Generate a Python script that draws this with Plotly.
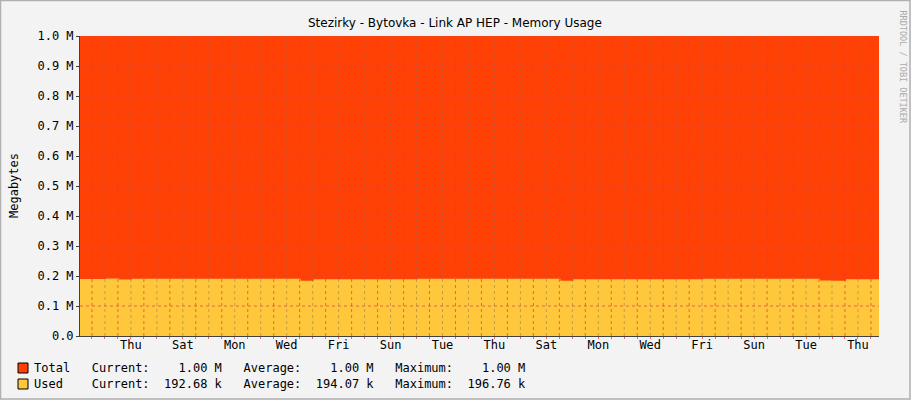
import plotly.graph_objects as go

# time axis in days from the left edge of the graph
days = [i * 0.5 for i in range(63)]
total_m = [1.0] * 63
used_m = [0.190, 0.190, 0.192, 0.188, 0.191, 0.191, 0.191, 0.191, 0.191, 0.191,
          0.191, 0.191, 0.191, 0.191, 0.191, 0.191, 0.191, 0.184, 0.189, 0.189,
          0.189, 0.189, 0.189, 0.189, 0.189, 0.189, 0.191, 0.191, 0.191, 0.191,
          0.191, 0.191, 0.191, 0.191, 0.191, 0.191, 0.191, 0.184, 0.189, 0.189,
          0.189, 0.189, 0.189, 0.189, 0.189, 0.189, 0.189, 0.189, 0.191, 0.191,
          0.191, 0.191, 0.191, 0.191, 0.191, 0.191, 0.191, 0.185, 0.184, 0.189,
          0.189, 0.189, 0.189]
day_labels = ["Thu", "Sat", "Mon", "Wed", "Fri", "Sun", "Tue", "Thu",
              "Sat", "Mon", "Wed", "Fri", "Sun", "Tue", "Thu"]
label_pos = [1.96 + 2 * i for i in range(len(day_labels))]
y_vals = [i / 10 for i in range(11)]
y_text = ["0.0"] + ["%.1f M" % v for v in y_vals[1:]]

legend_rows = [
    ("#ff4105", "Total   Current:    1.00 M   Average:    1.00 M   Maximum:    1.00 M"),
    ("#ffc73b", "Used    Current:  192.68 k   Average:  194.07 k   Maximum:  196.76 k"),
]

mono = "DejaVu Sans Mono"
x_end = 30.77
W, H, L, R, T, B = 911, 400, 80, 32, 36, 64
pw, ph = W - L - R, H - T - B

fig = go.Figure()
fig.add_trace(go.Scatter(x=days, y=total_m, mode="lines", line=dict(width=0, shape="hv"),
                         fill="tozeroy", fillcolor="#ff4105", hoverinfo="skip"))
fig.add_trace(go.Scatter(x=days, y=used_m, mode="lines", line=dict(width=0, shape="hv"),
                         fill="tozeroy", fillcolor="#ffc73b", hoverinfo="skip"))
# invisible trace to activate the day-label axis
fig.add_trace(go.Scatter(x=[0], y=[0], xaxis="x2", mode="markers",
                         marker=dict(opacity=0), hoverinfo="skip"))

# grid drawn above the filled areas, as rrdtool does
minor_x = [0.46 + 0.5 * i for i in range(62) if 0.46 + 0.5 * i < x_end]
for xv in minor_x:
    major = abs((xv - 1.46) % 1) < 1e-6
    fig.add_shape(type="line", xref="x", yref="paper", x0=xv, x1=xv, y0=0, y1=1,
                  layer="above",
                  line=dict(color="rgba(230,60,60,0.7)" if major else "rgba(120,120,120,0.5)",
                            width=1, dash="dot"))
for yv in y_vals[1:]:
    fig.add_shape(type="line", xref="paper", yref="y", x0=0, x1=1, y0=yv, y1=yv,
                  layer="above", line=dict(color="rgba(230,60,60,0.7)", width=1, dash="dot"))

fig.update_layout(
    width=W, height=H,
    margin=dict(l=L, r=R, t=T, b=B, autoexpand=False),
    paper_bgcolor="#f3f3f3", plot_bgcolor="#ffffff",
    showlegend=False,
    font=dict(family=mono, size=12, color="#000"),
    xaxis=dict(range=[0, x_end], tick0=0.46, dtick=0.5, showticklabels=False,
               showgrid=False, automargin=False,
               ticks="outside", ticklen=2, tickcolor="#ff6060",
               showline=True, linecolor="#404040", zeroline=False, layer="above traces"),
    xaxis2=dict(range=[0, x_end], overlaying="x", side="bottom", tickvals=label_pos,
                ticktext=day_labels, showgrid=False, ticks="", zeroline=False,
                automargin=False, tickfont=dict(family=mono, size=12)),
    yaxis=dict(range=[0, 1.0], tickvals=y_vals, ticktext=y_text, showgrid=False,
               ticks="outside", ticklen=3, tickcolor="#404040", automargin=False,
               showline=True, linecolor="#404040", zeroline=False, layer="above traces",
               tickfont=dict(family=mono, size=12)),
)

def px_x(p):
    return (p - L) / pw

def px_y(p):
    return (H - B - p) / ph

# image frame
fig.add_shape(type="rect", xref="paper", yref="paper", x0=px_x(0.5), x1=px_x(910),
              y0=px_y(399), y1=px_y(0.5), line=dict(color="#b0b0b0", width=1.5))

fig.add_annotation(text="Stezirky - Bytovka - Link AP HEP - Memory Usage", xref="paper",
                   yref="paper", x=px_x(455), y=px_y(14), showarrow=False,
                   font=dict(family="DejaVu Sans", size=12))
fig.add_annotation(text="Megabytes", xref="paper", yref="paper", x=px_x(5), y=px_y(186),
                   textangle=-90, showarrow=False, font=dict(family=mono, size=12))
fig.add_annotation(text="RRDTOOL / TOBI OETIKER", xref="paper", yref="paper",
                   x=px_x(903), y=px_y(8), yanchor="top", xanchor="center", textangle=90,
                   showarrow=False, font=dict(family=mono, size=8.5, color="#aaa"))
for i, (col, txt) in enumerate(legend_rows):
    yc = 368 + 16 * i
    fig.add_shape(type="rect", xref="paper", yref="paper",
                  x0=px_x(18), x1=px_x(28), y0=px_y(yc + 5), y1=px_y(yc - 5),
                  fillcolor=col, line=dict(color="#000", width=1))
    fig.add_annotation(text=txt.replace(" ", "\u00a0"), xref="paper", yref="paper",
                       x=px_x(32), y=px_y(yc), xanchor="left", yanchor="middle",
                       showarrow=False, font=dict(family=mono, size=12))

fig.write_html("out.html", config={"displayModeBar": False},
               post_script="document.body.style.margin='0';")
